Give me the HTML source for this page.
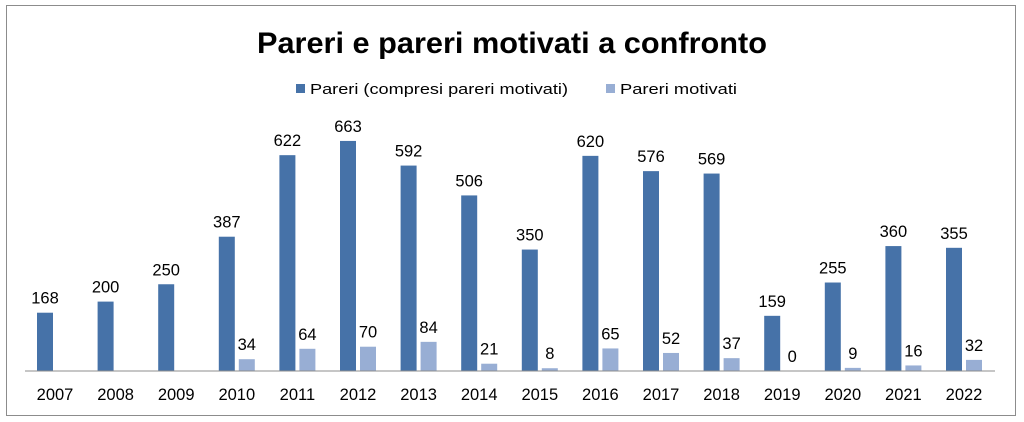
<!DOCTYPE html>
<html><head><meta charset="utf-8"><style>
body{margin:0;background:#fff;}
svg{display:block;font-family:"Liberation Sans",sans-serif;}
</style></head><body>
<svg width="1024" height="422">
<rect x="6.5" y="5.5" width="1009" height="410" fill="#fff" stroke="#8c8c8c"/>
<text x="512" y="53" text-anchor="middle" font-size="30" font-weight="bold" fill="#000" textLength="510" lengthAdjust="spacingAndGlyphs">Pareri e pareri motivati a confronto</text>
<g>
<rect x="296" y="84" width="9" height="9" fill="#4672a8"/>
<text x="310" y="94" font-size="15" fill="#000" textLength="258" lengthAdjust="spacingAndGlyphs">Pareri (compresi pareri motivati)</text>
<rect x="606" y="84" width="9" height="9" fill="#98aed4"/>
<text x="620" y="94" font-size="15" fill="#000" textLength="117" lengthAdjust="spacingAndGlyphs">Pareri motivati</text>
</g>
<g id="plot"></g>
<line x1="25" y1="371" x2="995" y2="371" stroke="#8c8c8c"/>
</svg>
<script>
const years=["2007","2008","2009","2010","2011","2012","2013","2014","2015","2016","2017","2018","2019","2020","2021","2022"];
const pareri=[168,200,250,387,622,663,592,506,350,620,576,569,159,255,360,355];
const motivati=[null,null,null,34,64,70,84,21,8,65,52,37,0,9,16,32];
const g=document.getElementById('plot');
const NS='http://www.w3.org/2000/svg';
const x0=25,step=60.6,base=371,k=0.347;
const y=v=>base-v*k;
function el(t,a){const e=document.createElementNS(NS,t);for(const n in a)e.setAttribute(n,a[n]);g.appendChild(e);return e;}
years.forEach((yr,i)=>{
  const gx=x0+i*step;
  const b1=el('rect',{x:gx+12,y:y(pareri[i]),width:16,height:pareri[i]*k,fill:'#4672a8'});
  
  
  const t1=el('text',{x:gx+20,y:y(pareri[i])-9,'text-anchor':'middle','font-size':'16.5',fill:'#000'});
  t1.textContent=pareri[i];
  
  
  if(motivati[i]!==null){
    const b2=el('rect',{x:gx+32,y:y(motivati[i]),width:16,height:motivati[i]*k,fill:'#98aed4'});
    
    
    const t2=el('text',{x:gx+40,y:y(motivati[i])-9,'text-anchor':'middle','font-size':'16.5',fill:'#000'});
    t2.textContent=motivati[i];
    
    
  }
  const tl=el('text',{x:gx+30,y:400,'text-anchor':'middle','font-size':'16.5',fill:'#000'});
  tl.textContent=yr;
  
  
});
</script>
</body></html>
